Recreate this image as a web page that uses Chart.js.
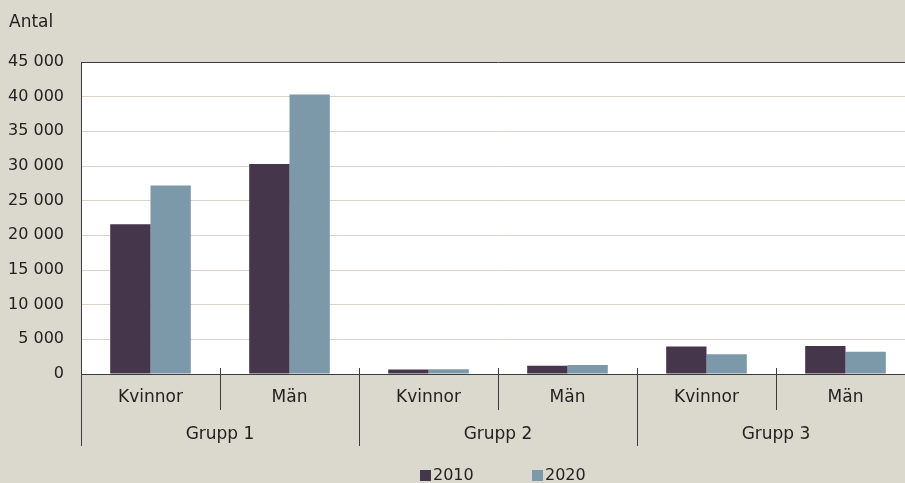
<!DOCTYPE html>
<html>
<head>
<meta charset="utf-8">
<script src="https://cdn.jsdelivr.net/npm/chart.js@4"></script>
<style>
    html, body { margin: 0; padding: 0; background: #dbd9cd; overflow: hidden; }
    #wrap { width: 905px; height: 483px; overflow: hidden; }
</style>
</head>
<body>
<div id="wrap"><canvas id="barChart" width="915" height="483"></canvas></div>
<script>
// ── Data ──
const groups = ['Grupp 1', 'Grupp 2', 'Grupp 3'];
const subLabels = ['Kvinnor', 'Män'];
const years = ['2010', '2020'];
const values2010 = [21600, 30300, 650, 1200, 3950, 4050];
const values2020 = [27200, 40300, 700, 1300, 2850, 3200];
const yTicks = [0, 5000, 10000, 15000, 20000, 25000, 30000, 35000, 40000, 45000];

const FONT = '"DejaVu Sans", sans-serif';
const TEXT = '#222222';
const LINE = '#3c3c3c';

const labels = [];
groups.forEach(() => subLabels.forEach(s => labels.push(s)));

function fmt(v) {
    return String(v).replace(/\B(?=(\d{3})+(?!\d))/g, ' ');
}

// background, plot area, grouped axis labels, legend
const decor = {
    id: 'decor',
    beforeDraw(chart) {
        const { ctx, chartArea: a } = chart;
        ctx.save();
        ctx.fillStyle = '#dbd9cd';
        ctx.fillRect(0, 0, chart.width, chart.height);
        ctx.fillStyle = '#ffffff';
        ctx.fillRect(a.left, a.top, a.right - a.left, a.bottom - a.top);
        ctx.restore();
    },
    afterDraw(chart) {
        const { ctx } = chart;
        const x = chart.scales.x;
        const bottom = x.top;
        const n = labels.length;
        const centers = labels.map((_, i) => x.getPixelForValue(i));

        ctx.save();
        ctx.strokeStyle = LINE;
        ctx.lineWidth = 1;
        for (let i = 0; i <= n; i++) {
            let bx;
            if (i === 0) bx = x.left;
            else if (i === n) bx = x.right;
            else bx = (centers[i - 1] + centers[i]) / 2;
            const major = i % subLabels.length === 0;
            const y0 = i === 0 ? bottom : bottom - 6;
            const y1 = bottom + (major ? 72 : 36);
            ctx.beginPath();
            ctx.moveTo(Math.round(bx) + 0.5, y0);
            ctx.lineTo(Math.round(bx) + 0.5, y1);
            ctx.stroke();
        }

        ctx.fillStyle = TEXT;
        ctx.font = '17px ' + FONT;
        ctx.textAlign = 'center';
        ctx.textBaseline = 'middle';
        labels.forEach((l, i) => ctx.fillText(l, centers[i], bottom + 24));
        groups.forEach((g, gi) => {
            const c0 = centers[gi * subLabels.length];
            const c1 = centers[gi * subLabels.length + subLabels.length - 1];
            ctx.fillText(g, (c0 + c1) / 2, bottom + 61);
        });

        // axis title
        ctx.textAlign = 'left';
        ctx.fillText('Antal', 9, 23);

        // legend
        ctx.font = '16px ' + FONT;
        const legendX = [420, 532];
        chart.data.datasets.forEach((ds, i) => {
            ctx.fillStyle = ds.backgroundColor;
            ctx.fillRect(legendX[i], 470, 11, 11);
            ctx.fillStyle = TEXT;
            ctx.fillText(ds.label, legendX[i] + 13, 476);
        });
        ctx.restore();
    }
};

new Chart(document.getElementById('barChart'), {
    type: 'bar',
    data: {
        labels: labels,
        datasets: [
            { label: years[0], data: values2010, backgroundColor: '#45364b' },
            { label: years[1], data: values2020, backgroundColor: '#7c99aa' }
        ]
    },
    options: {
        responsive: false,
        animation: false,
        categoryPercentage: 0.58,
        barPercentage: 1.0,
        layout: { padding: { top: 62, left: 0, right: 0, bottom: 0 } },
        plugins: {
            legend: { display: false },
            tooltip: { enabled: false }
        },
        scales: {
            x: {
                offset: true,
                grid: { display: false },
                border: { display: true, color: LINE, width: 1 },
                ticks: { display: false },
                afterFit: s => { s.height = 109; }
            },
            y: {
                min: 0,
                max: 45000,
                afterBuildTicks: s => { s.ticks = yTicks.map(v => ({ value: v })); },
                afterFit: s => { s.width = 81; },
                grid: {
                    drawTicks: false,
                    color: c => c.tick && c.tick.value === 45000 ? LINE : '#d8d5c8'
                },
                border: { display: true, color: LINE, width: 1 },
                ticks: {
                    padding: 17,
                    color: TEXT,
                    font: { family: FONT, size: 16 },
                    callback: v => fmt(v)
                }
            }
        }
    },
    plugins: [decor]
});
</script>
</body>
</html>
